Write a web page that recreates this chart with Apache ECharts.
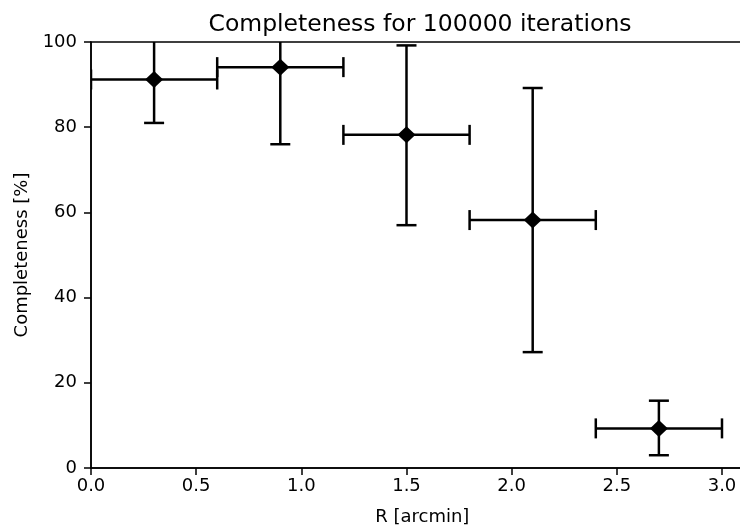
<!DOCTYPE html>
<html>
<head>
<meta charset="utf-8">
<script src="https://cdn.jsdelivr.net/npm/echarts@6/dist/echarts.min.js"></script>
<style>
html,body{margin:0;padding:0;background:#fff;}
#c{width:740px;height:526px;}
</style>
</head>
<body>
<div id="c"></div>
<script>
// Data
var radius = [0.3, 0.9, 1.5, 2.1, 2.7];
var radiusErr = [0.3, 0.3, 0.3, 0.3, 0.3];
var completeness = [91.2, 94.1, 78.2, 58.2, 9.3];
var compLow = [81.0, 76.0, 57.0, 27.2, 3.0];
var compHigh = [101.4, 112.2, 99.2, 89.2, 15.8];
var xTicks = [0, 0.5, 1.0, 1.5, 2.0, 2.5, 3.0];
var yTicks = [0, 20, 40, 60, 80, 100];

var FONT = 'DejaVu Sans';
var errData = radius.map(function (x, i) {
  return [x, completeness[i], x - radiusErr[i], x + radiusErr[i], compLow[i], compHigh[i]];
});
var ptData = radius.map(function (x, i) { return [x, completeness[i]]; });

var chart = echarts.init(document.getElementById('c'), null, {renderer: 'canvas'});
var CAP = 10;
chart.setOption({
  animation: false,
  backgroundColor: '#fff',
  title: {
    text: 'Completeness for 100000 iterations',
    left: 420, top: 13, padding: 0,
    textAlign: 'center',
    textStyle: {fontFamily: FONT, fontSize: 23.5, fontWeight: 'normal', color: '#000'}
  },
  grid: {
    left: 91, top: 42, width: 3.15 * 210.33, height: 426,
    outerBoundsMode: 'none', containLabel: false,
    show: true, borderColor: '#000', borderWidth: 1.5, backgroundColor: 'transparent'
  },
  xAxis: {
    type: 'value', min: 0, max: 3.15, interval: 0.5,
    name: 'R [arcmin]', nameLocation: 'middle', nameGap: 40,
    nameTextStyle: {fontFamily: FONT, fontSize: 18, color: '#000'},
    axisLine: {show: true, onZero: false, lineStyle: {color: '#000', width: 1.5}},
    axisTick: {show: true, inside: false, length: 7, lineStyle: {color: '#000', width: 1.5},
      customValues: xTicks},
    axisLabel: {fontFamily: FONT, fontSize: 18, color: '#000', margin: 9,
      customValues: xTicks,
      formatter: function (v) { return v.toFixed(1); }},
    splitLine: {show: false}
  },
  yAxis: {
    type: 'value', min: 0, max: 100, interval: 20,
    name: 'Completeness [%]', nameLocation: 'middle', nameGap: 58, nameRotate: 90,
    nameTextStyle: {fontFamily: FONT, fontSize: 18, color: '#000'},
    axisLine: {show: true, onZero: false, lineStyle: {color: '#000', width: 1.5}},
    axisTick: {show: true, inside: false, length: 7, lineStyle: {color: '#000', width: 1.5},
      customValues: yTicks},
    axisLabel: {fontFamily: FONT, fontSize: 18, color: '#000', margin: 14, customValues: yTicks},
    splitLine: {show: false}
  },
  series: [
    {
      type: 'custom',
      clip: true,
      data: errData,
      encode: {x: 0, y: 1},
      z: 2,
      renderItem: function (params, api) {
        var x = api.value(0), y = api.value(1);
        var pl = api.coord([api.value(2), y]);
        var ph = api.coord([api.value(3), y]);
        var pb = api.coord([x, api.value(4)]);
        var pt = api.coord([x, api.value(5)]);
        var st = {stroke: '#000', lineWidth: 2.5, fill: null};
        function line(x1, y1, x2, y2) {
          return {type: 'line', shape: {x1: x1, y1: y1, x2: x2, y2: y2}, style: st};
        }
        return {
          type: 'group',
          children: [
            line(pl[0], pl[1], ph[0], ph[1]),
            line(pl[0], pl[1] - CAP, pl[0], pl[1] + CAP),
            line(ph[0], ph[1] - CAP, ph[0], ph[1] + CAP),
            line(pb[0], pb[1], pt[0], pt[1]),
            line(pb[0] - CAP, pb[1], pb[0] + CAP, pb[1]),
            line(pt[0] - CAP, pt[1], pt[0] + CAP, pt[1])
          ]
        };
      }
    },
    {
      type: 'scatter',
      data: ptData,
      symbol: 'diamond',
      symbolSize: [18, 17],
      itemStyle: {color: '#000', opacity: 1},
      z: 3
    }
  ]
});
</script>
</body>
</html>
